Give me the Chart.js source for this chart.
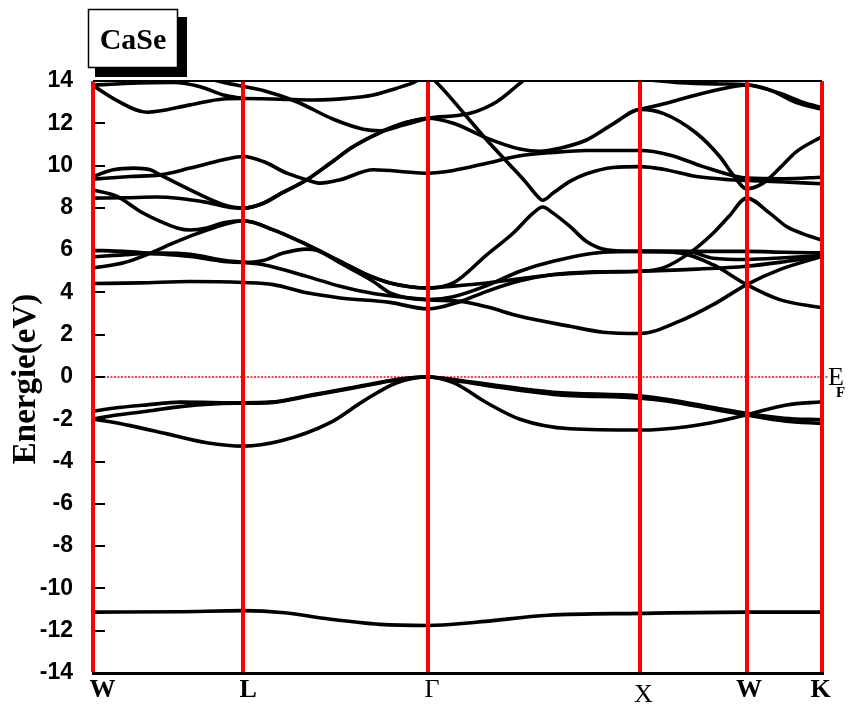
<!DOCTYPE html>
<html>
<head>
<meta charset="utf-8">
<script src="https://cdn.jsdelivr.net/npm/chart.js@4.4.1/dist/chart.umd.min.js"></script>
<style>
  body { margin: 0; background: #fff; }
  canvas { display: block; }
</style>
</head>
<body>
<canvas id="bandChart" width="855" height="708"></canvas>
<script>
// high symmetry points along the path, k in units of 2pi/a
const kPoints = [0, 0.707, 1.573, 2.573, 3.073, 3.427];
const kLabels = ['W', 'L', 'Γ', 'X', 'W', 'K'];

// bands, each one is [k, E(eV)] pairs
const sBand = [[0,-11.12],[0.4,-11.1],[0.707,-11.05],[0.9,-11.15],[1.11,-11.45],[1.35,-11.7],[1.573,-11.75],[1.8,-11.6],[2.14,-11.27],[2.573,-11.18],[3.073,-11.12],[3.427,-11.12]];

const pBand1 = [[0,-1.62],[0.095,-1.48],[0.254,-1.32],[0.41,-1.19],[0.707,-1.22],[0.833,-1.19],[1.036,-0.83],[1.193,-0.55],[1.349,-0.25],[1.46,-0.07],[1.573,0],[1.75,-0.2],[1.851,-0.33],[2.163,-0.72],[2.573,-0.9],[2.696,-1.05],[2.946,-1.5],[3.073,-1.72],[3.25,-1.95],[3.427,-2.02]];
const pBand2 = [[0,-1.98],[0.095,-1.82],[0.254,-1.62],[0.41,-1.4],[0.565,-1.27],[0.707,-1.24],[0.833,-1.21],[1.036,-0.86],[1.193,-0.58],[1.349,-0.28],[1.46,-0.08],[1.573,0],[1.75,-0.24],[1.851,-0.4],[2.163,-0.82],[2.573,-1.0],[2.696,-1.13],[2.946,-1.58],[3.073,-1.8],[3.25,-2.08],[3.427,-2.2]];
const pBand3 = [[0,-1.98],[0.175,-2.3],[0.348,-2.69],[0.535,-3.11],[0.707,-3.27],[0.88,-3.03],[1.115,-2.16],[1.271,-1.14],[1.428,-0.27],[1.573,0],[1.694,-0.27],[1.851,-1.22],[2.007,-2.0],[2.242,-2.45],[2.573,-2.51],[2.79,-2.35],[2.946,-2.08],[3.073,-1.78],[3.26,-1.32],[3.427,-1.17]];

const cBand1 = [[0,4.42],[0.222,4.45],[0.457,4.52],[0.707,4.47],[0.848,4.37],[1.005,3.98],[1.162,3.74],[1.396,3.53],[1.573,3.22],[1.631,3.3],[1.741,3.62],[1.851,4.05],[2.007,4.55],[2.163,4.85],[2.35,4.97],[2.573,5.0],[2.837,5.1],[3.073,5.24],[3.25,5.45],[3.427,5.7]];
const cBand2 = [[0,5.68],[0.175,5.8],[0.316,5.86],[0.457,5.8],[0.613,5.52],[0.707,5.42],[0.801,5.31],[1.005,4.76],[1.162,4.29],[1.318,3.95],[1.573,3.66],[1.741,3.56],[1.851,3.32],[2.007,2.87],[2.242,2.4],[2.398,2.12],[2.573,2.06],[2.758,2.64],[2.915,3.42],[3.073,4.37],[3.228,5.08],[3.427,5.7]];
const cBand3 = [[0,5.99],[0.144,5.94],[0.254,5.86],[0.457,5.7],[0.613,5.47],[0.707,5.42],[0.801,5.51],[0.895,5.86],[1.005,6.05],[1.052,5.99],[1.162,5.39],[1.318,4.52],[1.396,3.98],[1.573,3.66],[1.694,3.8],[1.851,4.32],[2.007,5.0],[2.163,5.47],[2.398,5.9],[2.573,5.94],[2.758,5.87],[2.915,5.31],[3.073,4.37],[3.228,3.66],[3.427,3.27]];
const cBand4 = [[0,5.16],[0.144,5.4],[0.254,5.79],[0.379,6.34],[0.489,6.78],[0.613,7.2],[0.707,7.39],[0.848,6.96],[1.005,6.26],[1.162,5.47],[1.287,4.84],[1.396,4.45],[1.573,4.21],[1.694,4.45],[1.851,5.78],[1.976,6.81],[2.069,7.75],[2.114,8.04],[2.163,7.75],[2.242,7.12],[2.32,6.41],[2.414,6.02],[2.573,5.94],[2.837,5.94],[3.073,5.94],[3.25,5.9],[3.427,5.87]];
const cBand5 = [[0,8.85],[0.113,8.54],[0.222,7.83],[0.316,7.36],[0.395,7.05],[0.457,6.95],[0.535,7.05],[0.613,7.3],[0.707,7.39],[0.848,6.96],[1.005,6.26],[1.162,5.47],[1.287,4.84],[1.396,4.45],[1.573,4.21],[1.694,4.3],[1.851,4.45],[2.163,4.84],[2.35,4.95],[2.573,5.0],[2.68,5.16],[2.805,5.87],[2.915,6.8],[2.99,7.6],[3.073,8.46],[3.181,7.75],[3.26,7.12],[3.336,6.78],[3.427,6.47]];
const cBand6 = [[0,9.48],[0.095,9.8],[0.191,9.88],[0.269,9.8],[0.316,9.56],[0.457,8.85],[0.613,8.15],[0.707,7.99],[0.801,8.22],[0.88,8.66],[1.005,9.33],[1.115,10.11],[1.224,10.9],[1.349,11.56],[1.459,12.0],[1.573,12.24],[1.694,12.0],[1.851,11.3],[2.007,10.78],[2.101,10.67],[2.195,10.82],[2.32,11.21],[2.445,11.97],[2.573,12.66],[2.68,12.47],[2.837,11.53],[2.946,10.43],[3.009,9.56],[3.073,8.9],[3.15,9.17],[3.228,9.88],[3.307,10.66],[3.427,11.37]];
const cBand7 = [[0,8.46],[0.15,8.48],[0.301,8.51],[0.535,8.26],[0.645,8.02],[0.707,7.99],[0.801,8.22],[0.88,8.66],[1.005,9.33],[1.115,10.11],[1.224,10.9],[1.349,11.56],[1.459,12.0],[1.573,12.24],[1.772,12.47],[1.898,13.02],[2.007,13.89],[2.06,14.3]];
const cBand8 = [[0,9.36],[0.175,9.48],[0.316,9.56],[0.457,9.88],[0.613,10.27],[0.707,10.43],[0.801,10.19],[0.911,9.64],[1.005,9.33],[1.068,9.17],[1.162,9.33],[1.318,9.8],[1.506,9.67],[1.573,9.64],[1.694,9.77],[1.851,10.11],[2.007,10.46],[2.163,10.62],[2.32,10.71],[2.573,10.71],[2.71,10.5],[2.868,9.95],[3.025,9.48],[3.073,9.41],[3.25,9.38],[3.427,9.45]];
const cBand9 = [[0,13.78],[0.113,13.07],[0.254,12.52],[0.457,12.87],[0.613,13.15],[0.707,13.17],[0.88,13.14],[1.036,13.1],[1.193,13.18],[1.318,13.34],[1.428,13.66],[1.506,13.92],[1.573,14.25],[1.616,13.92],[1.741,12.5],[1.851,11.21],[1.96,10.03],[2.038,9.17],[2.085,8.6],[2.114,8.36],[2.163,8.7],[2.242,9.25],[2.32,9.61],[2.445,9.91],[2.573,9.95],[2.68,9.83],[2.837,9.48],[2.993,9.33],[3.073,9.3],[3.25,9.22],[3.427,9.14]];
const cBand10 = [[0,13.8],[0.15,13.88],[0.379,13.93],[0.504,13.73],[0.613,13.34],[0.707,13.17]];
const cBand11 = [[0.55,14.1],[0.62,13.92],[0.707,13.74],[0.8,13.55],[0.958,13.02],[1.13,12.19],[1.271,11.72],[1.349,11.65],[1.459,11.92],[1.573,12.24]];
const cBand12 = [[2.573,12.66],[2.68,12.91],[2.837,13.34],[2.993,13.7],[3.073,13.81],[3.181,13.58],[3.307,12.98],[3.427,12.66]];
const cBand13 = [[2.62,14.05],[2.758,13.92],[2.946,13.86],[3.073,13.82],[3.228,13.42],[3.35,12.95],[3.427,12.74]];
const cBand14 = [[2.573,5.94],[2.805,5.92],[2.915,5.62],[3.073,5.56],[3.25,5.64],[3.427,5.75]];

const fermiLine = [[0, 0], [3.427, 0]];

const allBands = [sBand, pBand1, pBand2, pBand3, cBand1, cBand2, cBand3, cBand4, cBand5,
    cBand6, cBand7, cBand8, cBand9, cBand10, cBand11, cBand12, cBand13, cBand14];

const toXY = arr => arr.map(([k, e]) => ({ x: k, y: e }));

const datasets = allBands.map(b => ({
    data: toXY(b),
    borderColor: '#000',
    borderWidth: 3.6,
    pointRadius: 0,
    cubicInterpolationMode: 'monotone',
    capBezierPoints: false,
    clip: 0
}));
datasets.push({
    data: toXY(fermiLine),
    borderColor: '#ff0000',
    borderWidth: 1.5,
    borderDash: [2, 1.5],
    pointRadius: 0,
    clip: 0
});

// labels, frame details, title box
const decorations = {
    id: 'decorations',
    beforeDraw(chart) {
        const ctx = chart.ctx;
        ctx.save();
        ctx.fillStyle = '#fff';
        ctx.fillRect(0, 0, chart.width, chart.height);
        ctx.restore();
    },
    afterDraw(chart) {
        const { ctx, chartArea: area } = chart;
        const x = chart.scales.x, y = chart.scales.y;
        ctx.save();

        // top frame line
        ctx.strokeStyle = '#000';
        ctx.lineWidth = 2;
        ctx.beginPath();
        ctx.moveTo(area.left, area.top);
        ctx.lineTo(area.right, area.top);
        ctx.stroke();

        // inner tick marks
        y.ticks.forEach(t => {
            const py = Math.round(y.getPixelForValue(t.value));
            ctx.beginPath();
            ctx.moveTo(area.left + 2, py);
            ctx.lineTo(area.left + 12, py);
            ctx.stroke();
        });

        // EF label and dotted tail past K
        const y0 = y.getPixelForValue(0);
        ctx.strokeStyle = '#ff0000';
        ctx.lineWidth = 1.5;
        ctx.setLineDash([2, 1.5]);
        ctx.beginPath();
        ctx.moveTo(area.right, y0);
        ctx.lineTo(area.right + 6, y0);
        ctx.stroke();
        ctx.setLineDash([]);
        ctx.fillStyle = '#000';
        ctx.textAlign = 'left';
        ctx.textBaseline = 'alphabetic';
        ctx.font = '26px "Liberation Serif"';
        ctx.fillText('E', area.right + 6, y0 + 8);
        ctx.font = 'bold 15px "Liberation Serif"';
        ctx.fillText('F', area.right + 14, y0 + 20);

        // symmetry point labels
        const labelShift = [9.5, 4.7, 4.5, 3, 2.3, -1.3];
        kPoints.forEach((k, i) => {
            const px = x.getPixelForValue(k) + labelShift[i];
            const plain = kLabels[i] === 'Γ' || kLabels[i] === 'X';
            ctx.font = (plain ? '' : 'bold ') + '26px "Liberation Serif"';
            ctx.textAlign = 'center';
            ctx.fillText(kLabels[i], px, kLabels[i] === 'X' ? 702 : 697);
        });

        // y title
        ctx.save();
        ctx.translate(26, (area.top + area.bottom) / 2 + 2);
        ctx.rotate(-Math.PI / 2);
        ctx.font = 'bold 33px "Liberation Serif"';
        ctx.textAlign = 'center';
        ctx.textBaseline = 'middle';
        ctx.fillText('Energie(eV)', 0, 0);
        ctx.restore();

        // title box with shadow
        ctx.fillStyle = '#000';
        ctx.fillRect(95, 17, 92, 60);
        ctx.fillStyle = '#fff';
        ctx.fillRect(88, 9, 90, 59);
        ctx.strokeStyle = '#000';
        ctx.lineWidth = 1.5;
        ctx.strokeRect(88.5, 9.5, 89, 58);
        ctx.fillStyle = '#000';
        ctx.font = 'bold 30px "Liberation Serif"';
        ctx.textAlign = 'center';
        ctx.fillText('CaSe', 133, 49);

        ctx.restore();
    }
};

new Chart(document.getElementById('bandChart'), {
    type: 'line',
    data: { datasets },
    options: {
        responsive: false,
        animation: false,
        events: [],
        layout: { padding: { top: 81, right: 33, left: 0, bottom: 0 } },
        plugins: { legend: { display: false }, tooltip: { enabled: false } },
        scales: {
            x: {
                type: 'linear',
                min: 0,
                max: 3.427,
                afterBuildTicks: scale => { scale.ticks = kPoints.map(v => ({ value: v })); },
                afterFit: scale => { scale.height = 35; },
                ticks: { display: false },
                grid: { color: '#ff0000', lineWidth: 4, drawTicks: false, z: 1 },
                border: { display: true, color: '#000', width: 3, z: 2 }
            },
            y: {
                min: -14,
                max: 14,
                afterFit: scale => { scale.width = 93; },
                ticks: {
                    stepSize: 2,
                    padding: 12,
                    color: '#000',
                    font: { family: '"Liberation Sans"', weight: 'bold', size: 23 }
                },
                grid: { display: false },
                border: { display: false }
            }
        }
    },
    plugins: [decorations]
});
</script>
</body>
</html>
